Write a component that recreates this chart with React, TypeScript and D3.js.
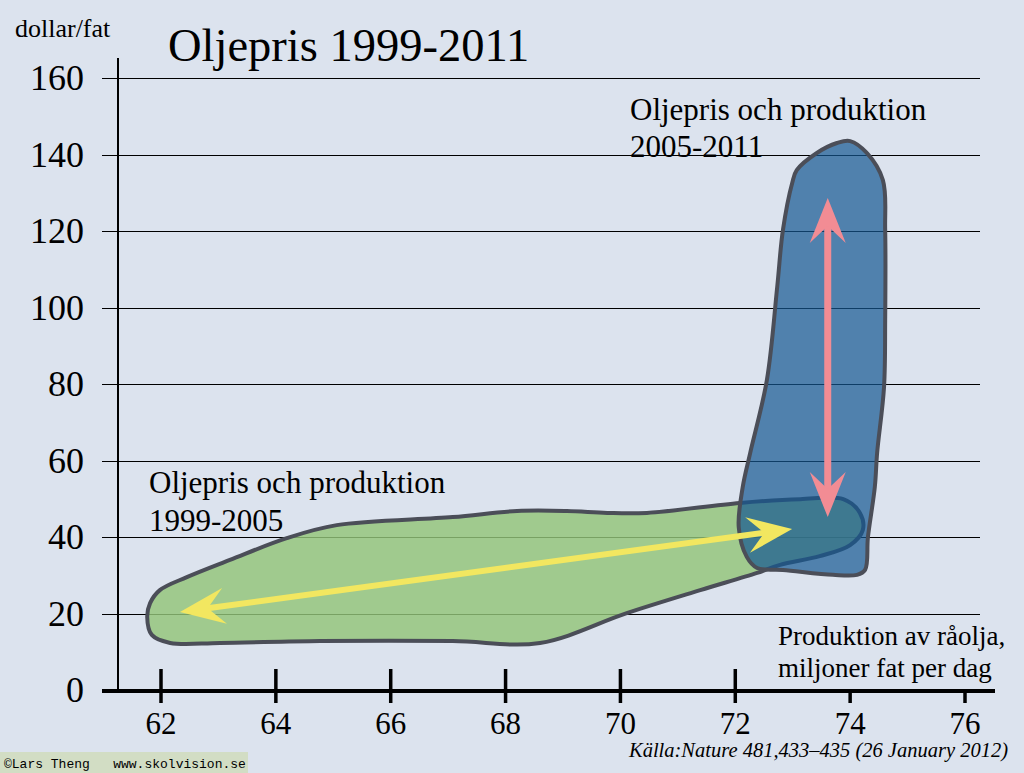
import * as d3 from 'd3'

const W = 1024
const H = 773
const BG = '#dce3ee'
const FONT = '"Liberation Serif", "Times New Roman", serif'

const Y_TICKS = [0, 20, 40, 60, 80, 100, 120, 140, 160]
const X_TICKS = [62, 64, 66, 68, 70, 72, 74, 76]
// ticks under the axis caption are drawn short
const SHORT_X_TICKS = [74, 76]

// outline of the 1999-2005 region (production, price)
const GREEN_X = [61.76, 61.81, 61.98, 62.45, 63.2, 64.19, 65.06, 67.08, 68.2, 69.07, 69.77, 70.46, 72.08, 73.13, 73.88, 74.17, 74.22, 74.0, 73.47, 72.78, 72.38, 71.39, 70.11, 68.6, 67.08, 64.77, 63.03, 62.16, 61.84]
const GREEN_Y = [19.1, 22.7, 26.1, 29.5, 34.0, 39.7, 43.1, 45.2, 46.8, 46.8, 46.3, 46.3, 48.9, 49.9, 49.9, 46.3, 41.8, 37.9, 35.0, 32.7, 30.6, 26.1, 20.1, 12.3, 12.8, 12.8, 12.3, 12.3, 14.4]

// outline of the 2005-2011 region
const BLUE_X = [74.0, 74.29, 74.57, 74.61, 74.61, 74.59, 74.47, 74.43, 74.31, 74.26, 74.12, 73.7, 72.83, 72.38, 72.2, 72.06, 72.13, 72.26, 72.55, 72.73, 72.83, 72.99, 73.07, 73.42, 73.77]
const BLUE_Y = [143.5, 140.4, 133.3, 120.3, 96.7, 79.2, 62.0, 53.1, 40.0, 31.4, 30.1, 30.1, 31.4, 31.9, 34.8, 42.6, 53.1, 62.0, 81.0, 105.4, 120.3, 132.5, 135.9, 140.4, 143.0]

// double arrows [x1, y1, x2, y2]
const YELLOW_ARROW = [62.33, 20.4, 72.99, 42.1]
const PINK_ARROW = [73.61, 45.2, 73.61, 128.6]

const x = d3.scaleLinear().domain([62, 76]).range([161, 965])
const y = d3.scaleLinear().domain([0, 160]).range([690, 78])

const blob = d3.line<[number, number]>()
  .x(d => x(d[0])).y(d => y(d[1]))
  .curve(d3.curveCatmullRomClosed.alpha(0.5))

function zip(xs: number[], ys: number[]): [number, number][] {
  return xs.map((v, i) => [v, ys[i]])
}

// head: tip, barb, notch, barb
function head(tx: number, ty: number, ux: number, uy: number) {
  const len = 45, half = 18, notch = 28
  const px = -uy, py = ux
  const bx = tx - ux * len, by = ty - uy * len
  const nx = tx - ux * notch, ny = ty - uy * notch
  return `M${tx},${ty}L${bx + px * half},${by + py * half}L${nx},${ny}L${bx - px * half},${by - py * half}Z`
}

function DoubleArrow({ a, color, width }: { a: number[]; color: string; width: number }) {
  const x1 = x(a[0]), y1 = y(a[1]), x2 = x(a[2]), y2 = y(a[3])
  const L = Math.hypot(x2 - x1, y2 - y1)
  const ux = (x2 - x1) / L, uy = (y2 - y1) / L
  return (
    <g fill={color}>
      <line x1={x1 + ux * 26} y1={y1 + uy * 26} x2={x2 - ux * 26} y2={y2 - uy * 26}
        stroke={color} strokeWidth={width} />
      <path d={head(x2, y2, ux, uy)} />
      <path d={head(x1, y1, -ux, -uy)} />
    </g>
  )
}

export default function App() {
  const x0 = 102, xAxisEnd = 995, gridEnd = 980, yAxisX = 118
  return (
    <svg width={W} height={H} style={{ position: 'absolute', left: 0, top: 0, display: 'block' }}
      fontFamily={FONT}>
      <rect width={W} height={H} fill={BG} />

      {/* grid */}
      {Y_TICKS.filter(t => t > 0).map(t => (
        <line key={t} x1={x0} x2={gridEnd} y1={Math.round(y(t)) + 0.5} y2={Math.round(y(t)) + 0.5}
          stroke="#000" strokeWidth={1} />
      ))}
      {Y_TICKS.map(t => (
        <text key={t} x={84} y={y(t)} dy="0.34em" textAnchor="end" fontSize={36}>{t}</text>
      ))}
      <line x1={yAxisX} x2={yAxisX} y1={58} y2={691} stroke="#000" strokeWidth={2} />

      {/* regions */}
      <path d={blob(zip(GREEN_X, GREEN_Y)) ?? ''} fill="#93c479" fillOpacity={0.82}
        stroke="#4b4e58" strokeWidth={4} strokeLinejoin="round" />
      <path d={blob(zip(BLUE_X, BLUE_Y)) ?? ''} fill="#145791" fillOpacity={0.7}
        stroke="#4b4e58" strokeWidth={4} strokeLinejoin="round" />

      <DoubleArrow a={YELLOW_ARROW} color="#f2e760" width={6} />
      <DoubleArrow a={PINK_ARROW} color="#f28c94" width={7} />

      {/* x axis */}
      <line x1={x0} x2={xAxisEnd} y1={691} y2={691} stroke="#000" strokeWidth={4} />
      {X_TICKS.map(t => (
        <g key={t} transform={`translate(${x(t)},0)`}>
          <line y1={SHORT_X_TICKS.includes(t) ? 689 : 669} y2={703} stroke="#000" strokeWidth={3.5} />
          <text y={734} textAnchor="middle" fontSize={31}>{t}</text>
        </g>
      ))}

      {/* texts */}
      <text x={15} y={37} fontSize={26}>dollar/fat</text>
      <text x={168} y={61} fontSize={46.5}>Oljepris 1999-2011</text>
      <text x={630} y={120} fontSize={31}>Oljepris och produktion</text>
      <text x={630} y={157} fontSize={31}>2005-2011</text>
      <text x={149} y={493} fontSize={31}>Oljepris och produktion</text>
      <text x={149} y={531} fontSize={31}>1999-2005</text>
      <text x={778} y={645} fontSize={27}>Produktion av råolja,</text>
      <text x={778} y={677} fontSize={27}>miljoner fat per dag</text>
      <text x={1008} y={757} fontSize={20.5} fontStyle="italic" textAnchor="end">Källa:Nature 481,433–435 (26 January 2012)</text>

      <rect x={0} y={752} width={248} height={21} fill="#d2ddc4" />
      <text x={4} y={768} fontSize={13} fontFamily='"Liberation Mono", monospace' xmlSpace="preserve">©Lars Theng   www.skolvision.se</text>
    </svg>
  )
}
